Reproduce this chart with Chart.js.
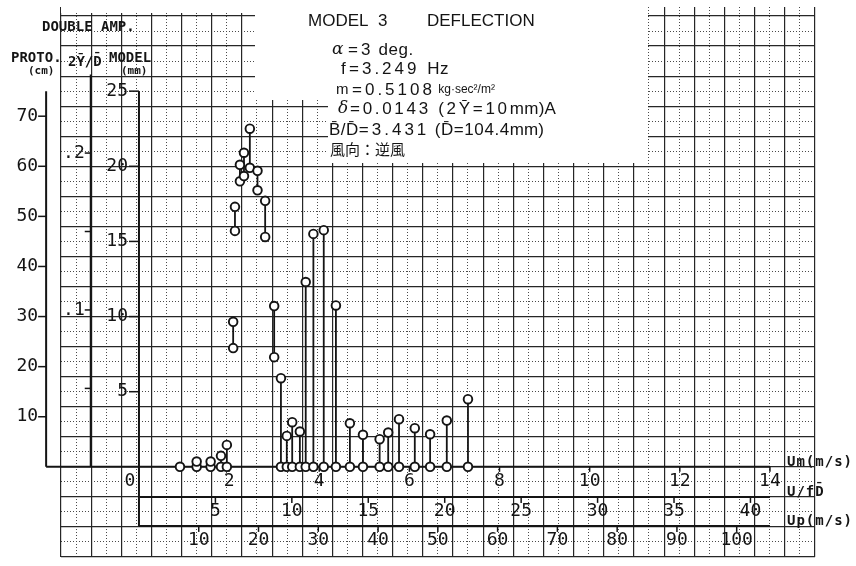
<!DOCTYPE html>
<html>
<head>
<meta charset="utf-8">
<title>Model 3 deflection</title>
<script src="https://cdn.jsdelivr.net/npm/chart.js@4.4.1/dist/chart.umd.min.js"></script>
<style>
  body { margin: 0; background: #fff; }
  #wrap { width: 856px; height: 566px; }
</style>
</head>
<body>
<div id="wrap"><canvas id="deflection" width="856" height="566"></canvas></div>
<script>
// model wind speed Um (m/s) and the double amplitude range seen at each speed (model, mm)
const windSpeed = [0.91, 1.28, 1.59, 1.82, 1.95, 2.09, 2.13, 2.24, 2.33, 2.46, 2.63, 2.80, 3.00, 3.15, 3.28,
                   3.40, 3.57, 3.70, 3.87, 4.10, 4.37, 4.68, 4.97, 5.34, 5.53, 5.77, 6.12, 6.46, 6.83, 7.30];
const ampLow  = [0, 0, 0, 0, 0, 7.9, 15.7, 19.0, 19.35, 19.9, 18.4, 15.3, 7.3, 0, 0,
                 0, 0, 0, 0, 0, 0, 0, 0, 0, 0, 0, 0, 0, 0, 0];
const ampHigh = [0, 0.35, 0.35, 0.73, 1.46, 9.65, 17.3, 20.1, 20.9, 22.5, 19.7, 17.7, 10.7, 5.9, 2.06,
                 2.97, 2.35, 12.3, 15.5, 15.75, 10.74, 2.9, 2.13, 1.84, 2.28, 3.17, 2.57, 2.17, 3.08, 4.5];

// scale ticks
const protoTicks = [10, 20, 30, 40, 50, 60, 70];          // prototype double amp (cm)
const ratioTicks = [0.05, 0.1, 0.15, 0.2];                // 2Y/D
const ratioLabels = ['', '.1', '', '.2'];
const modelTicks = [5, 10, 15, 20, 25];                   // model double amp (mm)
const umTicks = [0, 2, 4, 6, 8, 10, 12, 14];              // Um (m/s)
const ufdTicks = [5, 10, 15, 20, 25, 30, 35, 40];         // U/fD
const upTicks = [10, 20, 30, 40, 50, 60, 70, 80, 90, 100]; // Up (m/s)

// model constants
const freq = 3.249;       // Hz
const depth = 0.1044;     // D (m)
const protoPerModel = 3;  // cm of prototype per mm of model
const upPerUm = 7.54;     // prototype / model wind speed

const xMin = -1.73, xMax = 15;
const yMin = -6, yMax = 30.6;
const ink = '#141414';

// one segment per wind speed: low end, high end, then a gap
const points = [];
windSpeed.forEach((u, i) => {
  points.push({ x: u, y: ampLow[i] });
  if (ampHigh[i] !== ampLow[i]) points.push({ x: u, y: ampHigh[i] });
  points.push({ x: u, y: null });
});

const hidden = (axis, position, min, max) => ({ type: 'linear', axis, position, display: false, min, max });
const paper = (axis, position, min, max, step, color, width, dash) => ({
  type: 'linear', axis, position, min, max,
  ticks: { display: false, stepSize: step, maxTicksLimit: 1000, includeBounds: false },
  grid: { color, lineWidth: width, drawTicks: false },
  border: { display: false, dash }
});

// text pieces set one after another: [text, font, letter spacing]
const NUM = '17px "Liberation Sans"';
const TXT = '17px "Liberation Sans"';
const SMALL = '12px "Liberation Sans"';
function runs(ctx, x, y, parts) {
  parts.forEach(([text, font, spacing]) => {
    ctx.font = font;
    ctx.letterSpacing = spacing + 'px';
    ctx.fillText(text, x, y);
    x += ctx.measureText(text).width;
  });
  ctx.letterSpacing = '0px';
}

const sheet = {
  id: 'sheet',
  beforeDatasetsDraw(chart) {
    const { ctx } = chart;
    const { x, y, proto, ratio, ufd, up } = chart.scales;
    const x0 = x.getPixelForValue(0);
    const y0 = y.getPixelForValue(0);
    const protoX = x.getPixelForValue(-2.06);
    const ratioX = x.getPixelForValue(-1.07);
    const xEnd = x.getPixelForValue(14);
    const ufdY = y.getPixelForValue(-2);
    const upY = y.getPixelForValue(-3.93);
    const line = (ax, ay, bx, by) => { ctx.beginPath(); ctx.moveTo(ax, ay); ctx.lineTo(bx, by); ctx.stroke(); };

    ctx.save();
    // title card pasted over the paper, and the paper edge at the top left
    ctx.fillStyle = '#fff';
    ctx.fillRect(255, 0, 393, 100);
    ctx.fillRect(328, 100, 320, 63);
    ctx.fillRect(61, 0, 194, 13);

    ctx.strokeStyle = ink;
    ctx.fillStyle = ink;
    ctx.lineWidth = 2;
    // amplitude scales
    line(protoX, proto.getPixelForValue(75), protoX, y0);
    line(ratioX, ratio.getPixelForValue(0.25), ratioX, y0);
    line(x0, y.getPixelForValue(25), x0, upY);
    // speed scales
    line(protoX, y0, xEnd, y0);
    line(x0, ufdY, xEnd, ufdY);
    line(x0, upY, xEnd, upY);

    ctx.lineWidth = 1.5;
    ctx.font = '18px "DejaVu Sans Mono"';
    ctx.textBaseline = 'middle';
    ctx.textAlign = 'right';
    protoTicks.forEach(v => {
      const py = proto.getPixelForValue(v);
      line(protoX - 8, py, protoX, py);
      ctx.fillText(String(v), protoX - 8, py);
    });
    ratioTicks.forEach((v, i) => {
      const py = ratio.getPixelForValue(v);
      line(ratioX - 6, py, ratioX, py);
      ctx.fillText(ratioLabels[i], ratioX - 6, py);
    });
    modelTicks.forEach(v => {
      const py = y.getPixelForValue(v);
      line(x0 - 10, py, x0, py);
      ctx.fillText(String(v), x0 - 11, py);
    });

    ctx.textAlign = 'center';
    umTicks.forEach(v => {
      const px = x.getPixelForValue(v);
      line(px, y0, px, y0 + 5);
      ctx.fillText(String(v), v === 0 ? px - 9 : px, y0 + 14);
    });
    ufdTicks.forEach(v => {
      const px = ufd.getPixelForValue(v);
      line(px, ufdY, px, ufdY + 6);
      ctx.fillText(String(v), px, ufdY + 14);
    });
    upTicks.forEach(v => {
      const px = up.getPixelForValue(v);
      line(px, upY, px, upY + 6);
      ctx.fillText(String(v), px, upY + 14);
    });

    // scale names
    ctx.textAlign = 'left';
    ctx.font = 'bold 14px "DejaVu Sans Mono"';
    ctx.fillText('DOUBLE AMP.', 42, 27);
    ctx.fillText('PROTO.', 11, 58);
    ctx.fillText('2Ȳ/D̄', 68, 62);
    ctx.fillText('MODEL', 109, 58);
    ctx.letterSpacing = '1px';
    ctx.fillText('Um(m/s)', 787, y0 - 4);
    ctx.fillText('U/fD̄', 787, ufdY - 5);
    ctx.fillText('Up(m/s)', 787, upY - 5);
    ctx.letterSpacing = '0px';
    ctx.font = 'bold 11px "DejaVu Sans Mono"';
    ctx.fillText('(cm)', 28, 71);
    ctx.fillText('(mm)', 121, 71);

    // title card
    ctx.font = '17px "Liberation Sans"';
    ctx.fillText('MODEL  3', 308, 21);
    ctx.fillText('DEFLECTION', 427, 21);
    ctx.font = 'italic 17px "DejaVu Serif"';
    ctx.fillText('α', 332, 50);
    ctx.fillText('δ', 338, 109);
    ctx.font = TXT;
    ctx.fillText('f', 341, 69);
    ctx.font = '15px "Liberation Sans"';
    ctx.fillText('m', 336, 90);
    runs(ctx, 348, 50, [['=3', NUM, 3], [' deg.', TXT, 0.5]]);
    runs(ctx, 349, 69, [['=3.249 ', NUM, 3], ['Hz', TXT, 0.5]]);
    runs(ctx, 352, 90, [['=0.5108', NUM, 3], [' kg·sec²/m²', SMALL, 0]]);
    runs(ctx, 350, 109, [['=0.0143 (2Ȳ=10', NUM, 2.7], ['mm)A', TXT, 0.3]]);
    runs(ctx, 329, 130, [['B̄/D̄', TXT, 0.5], ['=3.431', NUM, 3], [' (D̄=104.4', NUM, 0.6], ['mm)', TXT, 0]]);
    ctx.font = '15px "Noto Sans CJK JP"';
    ctx.fillText('風向：逆風', 330, 149);
    ctx.restore();
  }
};

new Chart(document.getElementById('deflection'), {
  type: 'line',
  data: {
    datasets: [{
      data: points,
      xAxisID: 'x',
      yAxisID: 'y',
      spanGaps: false,
      borderColor: ink,
      borderWidth: 1.8,
      pointRadius: 4.3,
      pointBorderWidth: 1.9,
      pointBackgroundColor: '#fff',
      pointBorderColor: ink
    }]
  },
  options: {
    responsive: false,
    animation: false,
    devicePixelRatio: 1,
    layout: { padding: { left: 61, top: 7, right: 41, bottom: 9 } },
    plugins: { legend: { display: false }, tooltip: { enabled: false } },
    scales: {
      // half-square dotted rulings: the range is kept off a whole number of steps so ticks land on the halves
      gx2: paper('x', 'bottom', -0.5, 24.51, 1, '#4a4a4a', 1, [1, 2]),
      gy2: paper('y', 'left', yMin + 1, yMax + 1, 2, '#4a4a4a', 1, [1, 2]),
      gx: paper('x', 'bottom', 0, 25, 1, '#262626', 1.2, []),
      gy: paper('y', 'left', yMin, yMax, 2, '#262626', 1.2, []),
      x: hidden('x', 'bottom', xMin, xMax),
      y: hidden('y', 'left', yMin, yMax),
      proto: hidden('y', 'left', yMin * protoPerModel, yMax * protoPerModel),
      ratio: hidden('y', 'left', yMin / (depth * 1000), yMax / (depth * 1000)),
      ufd: hidden('x', 'bottom', xMin / (freq * depth), xMax / (freq * depth)),
      up: hidden('x', 'bottom', xMin * upPerUm, xMax * upPerUm)
    }
  },
  plugins: [sheet]
});
</script>
</body>
</html>
